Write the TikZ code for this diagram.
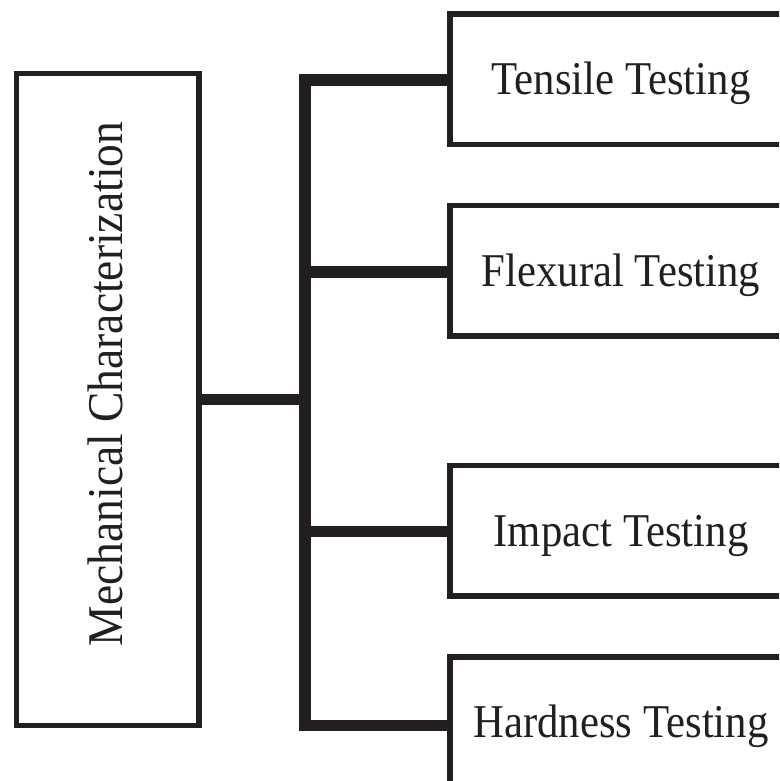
\documentclass[tikz,border=0pt]{standalone}
\usepackage{fontspec}
\setmainfont[FakeStretch=0.91]{Liberation Serif}
\definecolor{ink}{HTML}{231F20}
\begin{document}
\begin{tikzpicture}[x=1pt,y=-1pt,
  every node/.style={inner sep=0pt, outer sep=0pt},
  mainbox/.style={draw=ink, line width=5.5pt, minimum width=182.5pt, minimum height=652pt},
  testbox/.style={draw=ink, line width=5.5pt, minimum width=342pt, minimum height=130.5pt,
    font=\fontsize{47}{47}\selectfont, text=ink, text height=31pt, text depth=0pt},
  conn/.style={draw=ink, line width=11.5pt, line join=miter}]
  \useasboundingbox (0,0) rectangle (779,781);
  \clip (0,0) rectangle (779,781);

  % root box and its rotated caption
  \node[mainbox] (mc) at (107.75,399.5) {};
  \node[rotate=90, font=\fontsize{50}{50}\selectfont, text=ink, text height=33pt, text depth=0pt]
    (mclabel) at (105.5,384) {Mechanical Characterization};

  % the four test boxes (open to the right edge)
  \node[testbox] (ten) at (621,79.25)  {Tensile Testing};
  \node[testbox] (flx) at (621,270.75) {Flexural Testing};
  \node[testbox] (imp) at (621,530.75) {Impact Testing};
  \node[testbox] (hrd) at (621,722.25) {Hardness Testing};

  % vertical bus
  \coordinate (bus) at (305,0);

  \draw[conn] ([yshift=-0.75pt]ten.west) -- ([yshift=-0.75pt]ten.west -| bus)
              -- ([yshift=-3.25pt]hrd.west -| bus) -- ([yshift=-3.25pt]hrd.west);
  \draw[conn] (mc.east) -- (mc.east -| bus);
  \draw[conn] ([yshift=-1.25pt]flx.west -| bus) -- ([yshift=-1.25pt]flx.west);
  \draw[conn] ([yshift=-0.75pt]imp.west -| bus) -- ([yshift=-0.75pt]imp.west);
\end{tikzpicture}
\end{document}
